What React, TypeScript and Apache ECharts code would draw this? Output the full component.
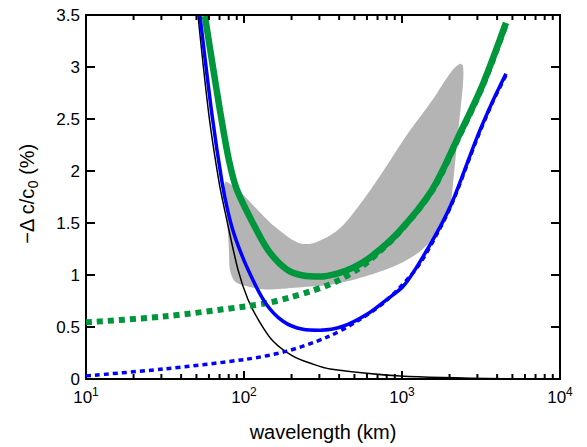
import React, { useEffect, useRef } from "react";
import * as echarts from "echarts";

// ---------- data ----------
// wavelength (km) / value (%) pairs
const blackLam = [51.2, 60.0, 69.5, 75.9, 91.6, 106, 126, 153, 204, 273, 350, 971, 4490];
const blackVal = [3.49, 2.534, 1.893, 1.607, 1.052, 0.765, 0.545, 0.363, 0.22, 0.143, 0.096, 0.029, 0.003];

const blueLam = [52.7, 62.7, 72.6, 79.2, 87.7, 106, 136, 176.6, 236, 303, 423, 600, 803, 1014, 1244, 1742, 2104, 2985, 3767, 4550];
const blueVal = [3.49, 2.543, 1.893, 1.607, 1.367, 1.052, 0.736, 0.555, 0.478, 0.469, 0.507, 0.622, 0.765, 0.889, 1.081, 1.463, 1.721, 2.324, 2.678, 2.936];

const greenLam = [56.6, 62.7, 70.5, 80.3, 90.3, 122.6, 146, 187, 236, 303, 388, 490, 627, 944, 1549, 2328, 3260, 4550];
const greenVal = [3.49, 3.06, 2.58, 2.104, 1.817, 1.406, 1.214, 1.052, 0.995, 0.985, 1.014, 1.071, 1.167, 1.406, 1.817, 2.362, 2.84, 3.424];

const blueDotLam = [10, 30.7, 104.5, 187, 335, 519, 803, 1244, 1742, 2104, 2985, 3767, 4550];
const blueDotVal = [0.03, 0.096, 0.191, 0.268, 0.402, 0.555, 0.76, 1.07, 1.45, 1.71, 2.31, 2.67, 2.92];

const greenDotLam = [10, 30.7, 104.5, 146, 195, 262, 335, 405, 519, 600, 944, 1549, 2328, 3260, 4550];
const greenDotVal = [0.545, 0.6, 0.7, 0.736, 0.784, 0.842, 0.899, 0.956, 1.052, 1.119, 1.4, 1.81, 2.35, 2.83, 3.41];

// shaded region outline
const grayLam = [75.9, 78.0, 80.3, 81.5, 87.7, 106, 136, 220, 361, 583, 944, 1340, 1792, 2015, 2105, 2262, 2432, 2432, 2328, 2072, 1549, 1091, 747, 527, 394, 281, 220, 157, 117, 91.6];
const grayVal = [1.893, 1.559, 1.243, 1.052, 0.937, 0.889, 0.861, 0.88, 0.908, 0.985, 1.1, 1.243, 1.463, 1.654, 1.884, 2.362, 2.84, 3.012, 3.031, 2.965, 2.678, 2.362, 1.98, 1.654, 1.434, 1.31, 1.31, 1.463, 1.654, 1.817];

const xMin = 10;
const xMax = 10000;
const yMin = 0;
const yMax = 3.5;
const yStep = 0.5;
const xMajor = [10, 100, 1000, 10000];
const yMajor = [0, 0.5, 1, 1.5, 2, 2.5, 3, 3.5];
const decades = [10, 100, 1000];
const minorMult = [2, 3, 4, 5, 6, 7, 8, 9];

const FONT = "'Liberation Sans', Arial, Helvetica, sans-serif";

const pairs = (xs: number[], ys: number[]) => xs.map((x, i) => [x, ys[i]]);

export default function App() {
  const ref = useRef<HTMLDivElement>(null);

  useEffect(() => {
    if (!ref.current) return;
    const chart = echarts.init(ref.current, undefined, { renderer: "svg" });

    const axisLineStyle = { color: "#000", width: 2 };
    const TW = 2;

    const option: any = {
      animation: false,
      grid: { left: 86, right: 27, top: 15, bottom: 67 },
      xAxis: {
        type: "log",
        logBase: 10,
        min: xMin,
        max: xMax,
        position: "bottom",
        axisLine: { show: true, onZero: false, lineStyle: axisLineStyle },
        axisTick: { show: true, inside: true, length: 8, lineStyle: { color: "#000", width: TW } },
        axisLabel: {
          margin: 7,
          formatter: (v: number) => `{b|10}{s|${Math.round(Math.log10(v))}}`,
          rich: {
            b: { fontSize: 17, fontFamily: FONT, color: "#000", lineHeight: 23 },
            s: { fontSize: 12, fontFamily: FONT, color: "#000", lineHeight: 12, verticalAlign: "top" },
          },
        },
        splitLine: { show: false },
        name: "wavelength (km)",
        nameLocation: "middle",
        nameGap: 43,
        nameTextStyle: { fontSize: 20, fontFamily: FONT, color: "#000" },
      },
      yAxis: {
        type: "value",
        min: yMin,
        max: yMax,
        interval: yStep,
        position: "left",
        axisLine: { show: true, onZero: false, lineStyle: axisLineStyle },
        axisTick: { show: true, inside: true, length: 9, lineStyle: { color: "#000", width: TW } },
        axisLabel: {
          margin: 6,
          fontSize: 17,
          fontFamily: FONT,
          color: "#000",
          formatter: (v: number) => String(v),
        },
        splitLine: { show: false },
      },
      series: [
        {
          type: "custom",
          silent: true,
          z: 1,
          data: [[grayLam[0], grayVal[0]]],
          encode: { x: 0, y: 1 },
          renderItem: (_p: any, api: any) => {
            const pts = grayLam.map((l, i) => api.coord([l, grayVal[i]]));
            return {
              type: "polygon",
              shape: { points: pts, smooth: 0.3 },
              style: { fill: "#b4b4b4", stroke: "none" },
            };
          },
        },
        {
          type: "line",
          data: pairs(blackLam, blackVal),
          showSymbol: false,
          smooth: 0.3,
          lineStyle: { color: "#000", width: 1.5 },
          z: 2,
        },
        {
          type: "line",
          data: pairs(blueDotLam, blueDotVal),
          showSymbol: false,
          smooth: 0.3,
          lineStyle: { color: "#0000ff", width: 3.5, type: [5, 4], cap: "butt" },
          z: 3,
        },
        {
          type: "line",
          data: pairs(greenDotLam, greenDotVal),
          showSymbol: false,
          smooth: 0.3,
          lineStyle: { color: "#00963c", width: 6, type: [6, 5], cap: "butt" },
          z: 3,
        },
        {
          type: "line",
          data: pairs(blueLam, blueVal),
          showSymbol: false,
          smooth: 0.3,
          lineStyle: { color: "#0000ff", width: 3.5 },
          z: 4,
        },
        {
          type: "line",
          data: pairs(greenLam, greenVal),
          showSymbol: false,
          smooth: 0.3,
          lineStyle: { color: "#00963c", width: 6.5 },
          z: 4,
        },
      ],
    };

    chart.setOption(option);

    // frame, ticks and the y title, placed through the chart's own scales
    const toPx = (x: number, y: number) =>
      chart.convertToPixel({ gridIndex: 0 }, [x, y]) as number[];
    const els: any[] = [];
    const rect = (id: string, x: number, y: number, w: number, h: number) =>
      els.push({ id, type: "rect", z: 100, shape: { x, y, width: w, height: h }, style: { fill: "#000" } });

    const tl = toPx(xMin, yMax);
    const tr = toPx(xMax, yMax);
    const br = toPx(xMax, yMin);
    rect("frameTop", tl[0] - 1, tl[1] - 1, tr[0] - tl[0] + 2, 2);
    rect("frameRight", tr[0] - 1, tr[1] - 1, 2, br[1] - tr[1] + 2);

    decades.forEach((d) =>
      minorMult.forEach((m) => {
        const b = toPx(d * m, yMin);
        const t = toPx(d * m, yMax);
        rect("mb" + d * m, b[0] - TW / 2, b[1] - 5, TW, 5);
        rect("mt" + d * m, t[0] - TW / 2, t[1], TW, 5);
      })
    );
    xMajor.forEach((v) => {
      const t = toPx(v, yMax);
      rect("Mt" + v, t[0] - TW / 2, t[1], TW, 8);
    });
    yMajor.forEach((v, i) => {
      const r = toPx(xMax, v);
      rect("yr" + i, r[0] - 9, r[1] - TW / 2, 9, TW);
    });

    els.push({
      id: "ytitle",
      type: "text",
      x: 27,
      y: 194,
      rotation: Math.PI / 2,
      style: {
        text: "{m|\u2212\u0394 c/c}{s|0}{m| (%)}",
        align: "center",
        verticalAlign: "middle",
        rich: {
          m: { fontSize: 20, fontFamily: FONT, fill: "#000", lineHeight: 26 },
          s: { fontSize: 14, fontFamily: FONT, fill: "#000", lineHeight: 14, verticalAlign: "bottom" },
        },
      },
    });

    chart.setOption({ graphic: els });
    return () => chart.dispose();
  }, []);

  return (
    <div
      ref={ref}
      style={{ position: "absolute", left: 0, top: 0, width: 587, height: 447, background: "#fff" }}
    />
  );
}
